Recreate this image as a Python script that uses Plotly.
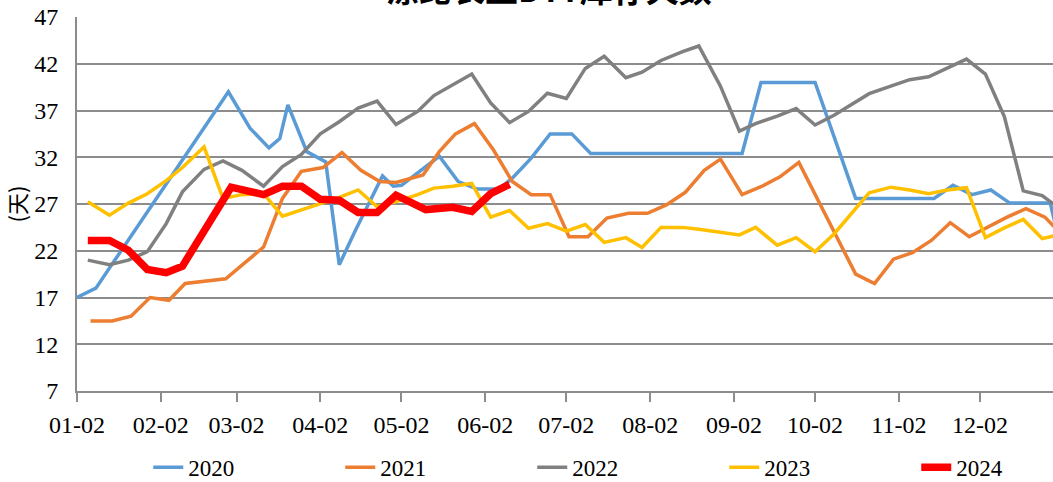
import plotly.graph_objects as go

YEAR = "2021-"
tick_labels = ["01-02", "02-02", "03-02", "04-02", "05-02", "06-02",
               "07-02", "08-02", "09-02", "10-02", "11-02", "12-02"]

# ---- 2020 ----
d2020 = ["01-02", "01-09", "01-16", "01-23", "01-30", "02-06", "02-13", "02-20", "02-27",
         "03-07", "03-14", "03-18", "03-21", "03-28", "04-04", "04-09", "04-15", "04-25",
         "04-29", "05-02", "05-16", "05-23", "05-30", "06-07", "06-12", "06-19", "06-26",
         "07-04", "07-11", "09-05", "09-12", "10-02", "10-17", "11-15", "11-22", "11-29",
         "12-06", "12-13", "12-28", "12-30"]
v2020 = [17.0, 18.0, 21.0, 24.0, 27.0, 30.0, 33.0, 36.0, 39.0,
         35.1, 33.0, 34.0, 37.6, 32.6, 31.5, 20.5, 24.2, 30.0,
         28.9, 29.0, 32.1, 29.4, 28.6, 28.6, 29.75, 31.9, 34.5,
         34.5, 32.4, 32.4, 40.0, 40.0, 27.6, 27.6, 29.0, 28.0,
         28.5, 27.1, 27.1, 24.6]

# ---- 2021 ----
d2021 = ["01-07", "01-15", "01-22", "01-29", "02-05", "02-11", "02-26", "03-12", "03-19",
         "03-26", "04-03", "04-10", "04-17", "04-24", "04-30", "05-10", "05-16", "05-22",
         "05-29", "06-05", "06-12", "06-19", "06-26", "07-03", "07-10", "07-17", "07-25",
         "08-01", "08-08", "08-15", "08-22", "08-28", "09-05", "09-12", "09-19", "09-26",
         "10-17", "10-24", "10-31", "11-07", "11-14", "11-21", "11-28", "12-05", "12-12",
         "12-19", "12-26", "12-31"]
v2021 = [14.5, 14.5, 15.0, 17.0, 16.7, 18.5, 19.0, 22.4, 27.6,
         30.5, 30.9, 32.5, 30.6, 29.4, 29.3, 30.1, 32.6, 34.5,
         35.6, 32.8, 29.4, 28.0, 28.0, 23.5, 23.5, 25.5, 26.0,
         26.0, 26.9, 28.25, 30.6, 31.8, 28.0, 28.85, 29.9, 31.45,
         19.5, 18.5, 21.1, 21.8, 23.1, 25.0, 23.5, 24.6, 25.6,
         26.5, 25.6, 24.1]

# shared weekly dates for 2022 / 2023
d2022 = ["01-06", "01-14", "01-21", "01-28", "02-04", "02-10", "02-18", "02-25", "03-04",
         "03-12", "03-19", "03-26", "04-02", "04-09", "04-16", "04-23", "04-30", "05-08",
         "05-14", "05-21", "05-28", "06-04", "06-11", "06-18", "06-25", "07-02", "07-09",
         "07-16", "07-24", "07-30", "08-06", "08-14", "08-20", "08-28", "09-04", "09-10",
         "09-18", "09-25", "10-02", "10-09", "10-15", "10-22", "10-30", "11-06", "11-13",
         "11-20", "11-27", "12-04", "12-11", "12-18", "12-25", "12-31"]
v2022 = [21.0, 20.5, 21.0, 21.9, 24.9, 28.3, 30.7, 31.6, 30.6,
         28.9, 31.0, 32.3, 34.5, 35.8, 37.25, 38.0, 35.5, 36.9,
         38.6, 39.75, 40.9, 37.8, 35.7, 36.9, 38.85, 38.3, 41.5,
         42.8, 40.5, 41.1, 42.35, 43.3, 43.9, 39.6, 34.8, 35.6,
         36.4, 37.2, 35.45, 36.5, 37.6, 38.8, 39.6, 40.3, 40.6,
         41.6, 42.5, 40.9, 36.35, 28.4, 27.9, 26.6]

d2023 = d2022
v2023 = [27.25, 25.8, 27.1, 28.1, 29.5, 30.9, 33.1, 27.6, 28.0,
         28.1, 25.7, 26.35, 27.0, 27.7, 28.5, 26.7, 27.25, 28.0,
         28.7, 28.9, 29.2, 25.6, 26.3, 24.4, 24.9, 24.1, 24.8,
         22.9, 23.4, 22.35, 24.5, 24.5, 24.3, 24.0, 23.7, 24.5,
         22.6, 23.4, 21.9, 23.8, 25.8, 28.2, 28.8, 28.5, 28.1,
         28.5, 28.75, 23.4, 24.45, 25.35, 23.3, 23.7]

# ---- 2024 ----
d2024 = ["01-06", "01-14", "01-21", "01-28", "02-04", "02-10", "02-28", "03-12", "03-19",
         "03-26", "04-02", "04-09", "04-16", "04-23", "04-30", "05-11", "05-21", "05-28",
         "06-04", "06-11"]
v2024 = [23.1, 23.1, 22.05, 20.0, 19.65, 20.35, 28.8, 28.0, 28.9,
         28.9, 27.5, 27.4, 26.1, 26.1, 27.95, 26.4, 26.65, 26.2,
         28.1, 29.1]

series = [
    ("2020", d2020, v2020, "#5B9BD5", 3.5),
    ("2021", d2021, v2021, "#ED7D31", 3.5),
    ("2022", d2022, v2022, "#808080", 3.5),
    ("2023", d2023, v2023, "#FFC000", 3.5),
    ("2024", d2024, v2024, "#FF0000", 7.5),
]

fig = go.Figure()
for i, (name, d, v, color, w) in enumerate(series):
    fig.add_trace(go.Scatter(
        x=[YEAR + s for s in d], y=v, mode="lines", name=name,
        line=dict(color=color, width=w),
        legendwidth=(147 if i < len(series) - 1 else 60),
    ))

serif = "'Liberation Serif', 'Times New Roman', serif"
grid = "#8C8C8C"

fig.update_layout(
    width=1053, height=482,
    margin=dict(l=77, r=0, t=17, b=91, autoexpand=False),
    paper_bgcolor="white", plot_bgcolor="white",
    font=dict(family=serif, size=24, color="black"),
    showlegend=True,
    legend=dict(
        orientation="h", x=0.073, xanchor="left", y=-0.204, yanchor="middle",
        itemwidth=30,
        font=dict(family=serif, size=23, color="black"),
        bgcolor="rgba(0,0,0,0)",
    ),
    xaxis=dict(
        type="date",
        range=[YEAR + "01-02", YEAR + "12-29"],
        tickvals=[YEAR + t for t in tick_labels],
        ticktext=tick_labels,
        ticks="outside", ticklen=9, tickwidth=1.5, tickcolor=grid,
        showline=True, linecolor=grid, linewidth=2,
        showgrid=False, zeroline=False,
        ticklabelstandoff=2,
        tickfont=dict(family=serif, size=24, color="black"),
    ),
    yaxis=dict(
        range=[7, 47], tick0=7, dtick=5,
        showgrid=True, gridcolor=grid, gridwidth=1.5,
        showline=True, linecolor=grid, linewidth=2,
        zeroline=False, ticks="",
        ticklabelstandoff=12,
        tickfont=dict(family=serif, size=24, color="black"),
        title=dict(text="(天)", standoff=10,
                   font=dict(family="'Noto Sans CJK SC', serif", size=22, color="black")),
    ),
)

fig.add_annotation(
    text="<b>涤纶长丝DTY库存天数</b>", xref="paper", yref="paper",
    x=0.4836, y=1.009, xanchor="center", yanchor="bottom", showarrow=False,
    font=dict(family="'Noto Sans CJK SC', serif", size=33, color="black"),
)

fig.write_html("out.html", config={"displayModeBar": False},
               post_script="document.body.style.margin='0';")
